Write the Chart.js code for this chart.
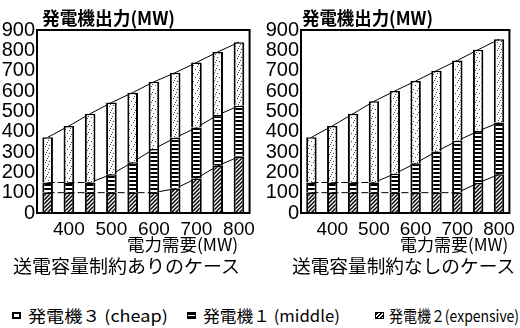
<!DOCTYPE html>
<html lang="ja">
<head>
<meta charset="utf-8">
<script src="https://cdn.jsdelivr.net/npm/chart.js@4/dist/chart.umd.min.js"></script>
<style>
  html, body { margin: 0; padding: 0; background: #fff; }
  #wrap { position: relative; width: 520px; height: 328px; overflow: hidden; background: #fff; }
  canvas { position: absolute; top: 0; }
  .txt { position: absolute; font-family: "Noto Sans CJK JP", sans-serif; color: #000; white-space: nowrap; line-height: 1; display: inline-block; transform-origin: 0 0; }
  .xt { font-size: 17px; top: 235px; }
  .cap { font-size: 18px; top: 256px; }
  .leg { font-size: 16px; top: 307px; }
  .sw { position: absolute; top: 312px; box-sizing: border-box; width: 9px; height: 7px; }
  .sw1 { border: 2px solid #000; background: #fff; }
  .sw2 { border: 1.5px solid #000; background: linear-gradient(#000 0 35%, #fff 35% 65%, #000 65%); }
  .sw3 { border: 1.5px solid #000; background: repeating-linear-gradient(135deg, #000 0 1.6px, #fff 1.6px 3px); }
</style>
</head>
<body>
<div id="wrap">
  <canvas id="limited" width="260" height="250" style="left:0"></canvas>
  <canvas id="free" width="260" height="250" style="left:260px"></canvas>

  <div class="txt xt" data-w="111" style="left:127px;">電力需要(MW)</div>
  <div class="txt xt" data-w="108" style="left:400px;">電力需要(MW)</div>
  <div class="txt cap" data-w="227" style="left:13px;">送電容量制約ありのケース</div>
  <div class="txt cap" data-w="223" style="left:292px;">送電容量制約なしのケース</div>

  <span class="sw sw1" style="left:12px"></span>
  <div class="txt leg" data-w="140" style="left:28px;">発電機３ (cheap)</div>
  <span class="sw sw2" style="left:187px"></span>
  <div class="txt leg" data-w="137" style="left:203px;">発電機１ (middle)</div>
  <span class="sw sw3" style="left:375px"></span>
  <div class="txt leg" data-w="130" style="left:389px;">発電機２(expensive)</div>
</div>
<script>
// Electricity demand (MW) for each bar, and the labels shown under them
const demand = [350, 400, 450, 500, 550, 600, 650, 700, 750, 800];
const xTickLabels = ['', '400', '', '500', '', '600', '', '700', '', '800'];
const yTitle = '発電機出力(MW)';

// Generator output (MW) with the transmission capacity limit
const limitedCheap     = [222, 278, 338, 353, 342, 330, 320, 320, 310, 313];
const limitedMiddle    = [50, 50, 50, 90, 150, 215, 250, 250, 250, 250];
const limitedExpensive = [100, 100, 100, 100, 100, 100, 120, 170, 232, 277];

// Generator output (MW) without the transmission capacity limit
const freeCheap     = [222, 278, 338, 399, 407, 404, 397, 395, 400, 409];
const freeMiddle    = [50, 50, 50, 50, 93, 145, 203, 255, 255, 255];
const freeExpensive = [100, 100, 100, 100, 100, 100, 100, 100, 148, 190];

// stretch or squeeze each caption to its box width
document.querySelectorAll('.txt[data-w]').forEach(el => {
  const w = parseFloat(el.dataset.w);
  el.style.transform = 'scaleX(' + (w / el.offsetWidth) + ')';
});

// ---- fill patterns for the three generators ----
function tile(w, h, paint) {
  const c = document.createElement('canvas');
  c.width = w; c.height = h;
  const g = c.getContext('2d');
  g.fillStyle = '#fff';
  g.fillRect(0, 0, w, h);
  paint(g);
  return c;
}
const hatchTile = tile(4, 4, g => {
  g.strokeStyle = '#000';
  g.lineWidth = 1.5;
  g.beginPath();
  g.moveTo(-1, 5); g.lineTo(5, -1);
  g.moveTo(-1, 1); g.lineTo(1, -1);
  g.moveTo(3, 5); g.lineTo(5, 3);
  g.stroke();
});
const stripeTile = tile(4, 4, g => {
  g.fillStyle = '#000';
  g.fillRect(0, 0, 4, 2);
});
const dotTile = tile(8, 8, g => {
  g.fillStyle = '#444';
  [[1, 1], [5, 2], [3, 5], [7, 6], [0, 4], [6, 0]].forEach(([x, y]) => g.fillRect(x, y, 1, 1));
});

function cumulative(...parts) {
  return parts[0].map((_, i) => parts.reduce((s, p) => s + p[i], 0));
}

// outer frame around the plotting area and the chart heading
const framePlugin = {
  id: 'frame',
  afterDatasetsDraw(chart, args, opts) {
    const { ctx, chartArea: a } = chart;
    ctx.save();
    ctx.strokeStyle = '#000';
    ctx.lineWidth = 2;
    ctx.strokeRect(a.left, a.top, a.right - a.left, a.bottom - a.top);
    ctx.fillStyle = '#000';
    ctx.font = 'bold 18px "Noto Sans CJK JP", sans-serif';
    ctx.textBaseline = 'alphabetic';
    ctx.textAlign = 'left';
    const m = ctx.measureText(opts.text).width;
    ctx.translate(opts.x, 25);
    ctx.scale(opts.w / m, 1);
    ctx.fillText(opts.text, 0, 0);
    ctx.restore();
  }
};

function lineSet(values, stack) {
  return {
    type: 'line',
    data: values,
    stack: stack,
    borderColor: '#000',
    borderWidth: 1,
    pointRadius: 0,
    tension: 0,
    fill: false,
    order: 2,
    segment: {
      borderDash: ctx => ctx.p0.parsed.y === ctx.p1.parsed.y ? [7, 3] : undefined
    }
  };
}

function barSet(values, pattern) {
  return {
    type: 'bar',
    data: values,
    stack: 'gen',
    backgroundColor: pattern,
    borderColor: '#000',
    borderWidth: { top: 1.5, left: 2, right: 2, bottom: 0 },
    borderSkipped: false,
    barPercentage: 0.5,
    categoryPercentage: 1,
    order: 1
  };
}

function makeChart(id, cheap, middle, expensive, axisWidth, rightPad, titleX, titleW) {
  const canvas = document.getElementById(id);
  const ctx = canvas.getContext('2d');
  const pHatch = ctx.createPattern(hatchTile, 'repeat');
  const pStripe = ctx.createPattern(stripeTile, 'repeat');
  const pDots = ctx.createPattern(dotTile, 'repeat');

  const mid = cumulative(expensive, middle);
  const top = cumulative(expensive, middle, cheap);

  return new Chart(ctx, {
    data: {
      labels: demand,
      datasets: [
        barSet(expensive, pHatch),
        barSet(middle, pStripe),
        barSet(cheap, pDots),
        lineSet(expensive, 'l1'),
        lineSet(mid, 'l2'),
        lineSet(top, 'l3')
      ]
    },
    options: {
      responsive: false,
      animation: false,
      devicePixelRatio: 1,
      layout: { padding: { top: 30, right: rightPad, left: 0, bottom: 0 } },
      plugins: {
        legend: { display: false },
        tooltip: { enabled: false },
        frame: { text: yTitle, x: titleX, w: titleW }
      },
      scales: {
        x: {
          stacked: true,
          offset: true,
          grid: { display: false, drawTicks: false },
          border: { display: false },
          ticks: {
            autoSkip: false,
            maxRotation: 0,
            padding: 5,
            color: '#000',
            font: { family: '"Liberation Sans", sans-serif', size: 19 },
            callback: (v, i) => xTickLabels[i]
          },
          afterFit: s => { s.height = 37; }
        },
        y: {
          stacked: true,
          min: 0,
          max: 900,
          grid: { display: false, drawTicks: false },
          border: { display: false },
          ticks: {
            stepSize: 100,
            autoSkip: false,
            padding: 2,
            color: '#000',
            font: { family: '"Liberation Sans", sans-serif', size: 20 }
          },
          afterFit: s => { s.width = axisWidth; }
        }
      }
    },
    plugins: [framePlugin]
  });
}

makeChart('limited', limitedCheap, limitedMiddle, limitedExpensive, 37, 4, 42, 133);
makeChart('free', freeCheap, freeMiddle, freeExpensive, 41, 3, 42, 131);
</script>
</body>
</html>
